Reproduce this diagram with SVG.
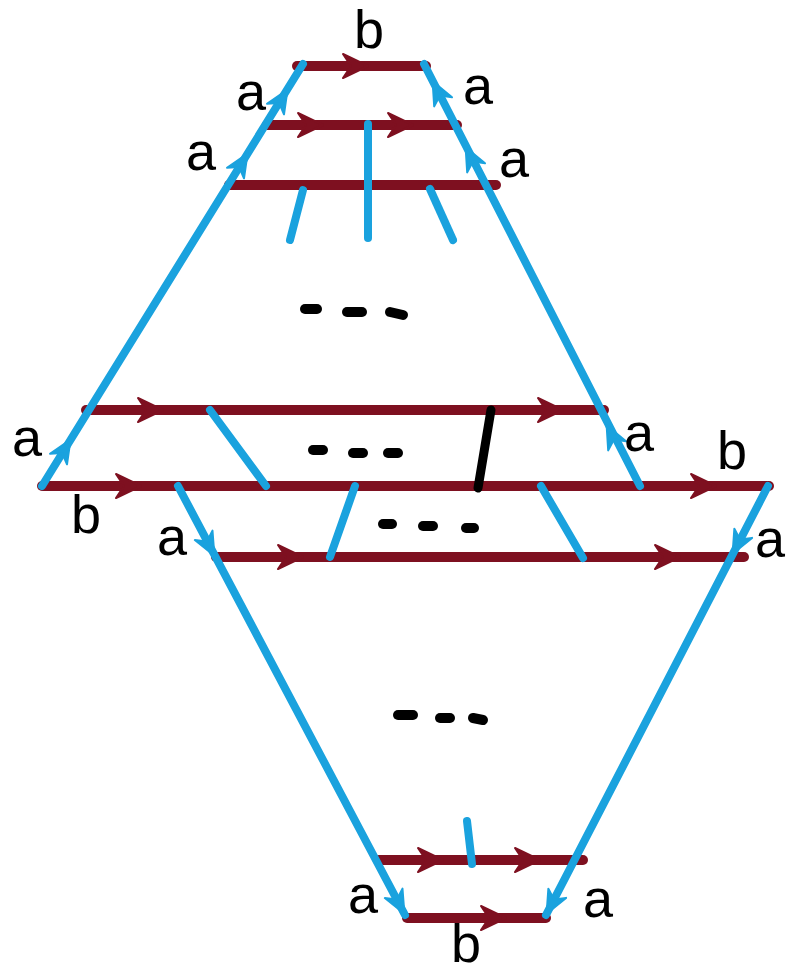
<svg xmlns="http://www.w3.org/2000/svg" xmlns:xlink="http://www.w3.org/1999/xlink" width="787" height="974" viewBox="0 0 787 974">
<defs>
<style>
.r{stroke:#7e1020;stroke-width:10;stroke-linecap:round;fill:none}
.bl{stroke:#1aa2de;stroke-width:8;stroke-linecap:round;fill:none}
.k{stroke:#000;stroke-width:9;stroke-linecap:round;fill:none}
.d{stroke:#000;stroke-width:10;stroke-linecap:round;fill:none}
.t{font-family:"Liberation Sans",Arial,sans-serif;font-size:54px;fill:#000;text-anchor:middle}
</style>
<path id="ra" d="M-22,-12 L3,0 L-22,12 L-14,0 Z" fill="#7e1020" stroke="#7e1020" stroke-width="2" stroke-linejoin="round"/>
<path id="ba" d="M-20,-10 L3,0 L-20,10 L-13,0 Z" fill="#1aa2de" stroke="#1aa2de" stroke-width="2" stroke-linejoin="round"/>
</defs>
<rect width="787" height="974" fill="#fff"/>

<g id="red-lines">
<line class="r" x1="297" y1="66" x2="426" y2="66"/>
<line class="r" x1="267" y1="125" x2="457" y2="125"/>
<line class="r" x1="229" y1="185" x2="496" y2="185"/>
<line class="r" x1="86" y1="410" x2="604" y2="410"/>
<line class="r" x1="42" y1="486" x2="769" y2="486"/>
<line class="r" x1="216" y1="557" x2="744" y2="557"/>
<line class="r" x1="379" y1="860" x2="583" y2="860"/>
<line class="r" x1="407" y1="918" x2="546" y2="918"/>
</g>

<g id="connectors">
<line class="bl" x1="42" y1="486" x2="303" y2="64"/>
<line class="bl" x1="640" y1="486" x2="424" y2="64"/>
<line class="bl" x1="178" y1="486" x2="405" y2="915"/>
<line class="bl" x1="768" y1="486" x2="546" y2="915"/>
<line class="bl" x1="303" y1="190" x2="290" y2="240"/>
<line class="bl" x1="368" y1="124" x2="368" y2="238"/>
<line class="bl" x1="430" y1="189" x2="453" y2="240"/>
<line class="bl" x1="210" y1="410" x2="266" y2="486"/>
<line class="bl" x1="355" y1="486" x2="330" y2="557"/>
<line class="bl" x1="541" y1="486" x2="583" y2="558"/>
<line class="bl" x1="467" y1="821" x2="472" y2="864"/>
<line class="k" x1="491" y1="410" x2="478" y2="488"/>
</g>

<g id="arrows">
<use xlink:href="#ra" transform="translate(365,66)"/>
<use xlink:href="#ra" transform="translate(320,125)"/>
<use xlink:href="#ra" transform="translate(410,125)"/>
<use xlink:href="#ra" transform="translate(160,410)"/>
<use xlink:href="#ra" transform="translate(560,410)"/>
<use xlink:href="#ra" transform="translate(138,486)"/>
<use xlink:href="#ra" transform="translate(713,486)"/>
<use xlink:href="#ra" transform="translate(300,557)"/>
<use xlink:href="#ra" transform="translate(677,557)"/>
<use xlink:href="#ra" transform="translate(440,860)"/>
<use xlink:href="#ra" transform="translate(537,860)"/>
<use xlink:href="#ra" transform="translate(503,918)"/>
<use xlink:href="#ba" transform="translate(286,92) rotate(-58.3)"/>
<use xlink:href="#ba" transform="translate(246,156) rotate(-58.3)"/>
<use xlink:href="#ba" transform="translate(69,442) rotate(-58.3)"/>
<use xlink:href="#ba" transform="translate(434,84) rotate(-117.1)"/>
<use xlink:href="#ba" transform="translate(467,150) rotate(-117.1)"/>
<use xlink:href="#ba" transform="translate(608,428) rotate(-117.1)"/>
<use xlink:href="#ba" transform="translate(213,553) rotate(62.1)"/>
<use xlink:href="#ba" transform="translate(403,911) rotate(62.1)"/>
<use xlink:href="#ba" transform="translate(734,551) rotate(117.5)"/>
<use xlink:href="#ba" transform="translate(548,911) rotate(117.5)"/>
</g>

<g id="dots">
<line class="d" x1="305" y1="309" x2="317" y2="309"/>
<line class="d" x1="347" y1="312" x2="362" y2="312"/>
<line class="d" x1="390" y1="312" x2="403" y2="315"/>
<line class="d" x1="313" y1="450" x2="323" y2="450"/>
<line class="d" x1="353" y1="453" x2="363" y2="453"/>
<line class="d" x1="388" y1="453" x2="398" y2="453"/>
<line class="d" x1="383" y1="524" x2="392" y2="524"/>
<line class="d" x1="423" y1="526" x2="433" y2="526"/>
<line class="d" x1="466" y1="528" x2="474" y2="528"/>
<line class="d" x1="398" y1="715" x2="413" y2="715"/>
<line class="d" x1="440" y1="718" x2="450" y2="718"/>
<line class="d" x1="473" y1="718" x2="483" y2="720"/>
</g>

<g id="labels">
<text class="t" x="369" y="48">b</text>
<text class="t" x="251" y="110">a</text>
<text class="t" x="201" y="170">a</text>
<text class="t" x="478" y="104">a</text>
<text class="t" x="514" y="177">a</text>
<text class="t" x="27" y="456">a</text>
<text class="t" x="86" y="533">b</text>
<text class="t" x="172" y="555">a</text>
<text class="t" x="639" y="451">a</text>
<text class="t" x="732" y="469">b</text>
<text class="t" x="770" y="557">a</text>
<text class="t" x="363" y="913">a</text>
<text class="t" x="466" y="962">b</text>
<text class="t" x="598" y="917">a</text>
</g>
</svg>
